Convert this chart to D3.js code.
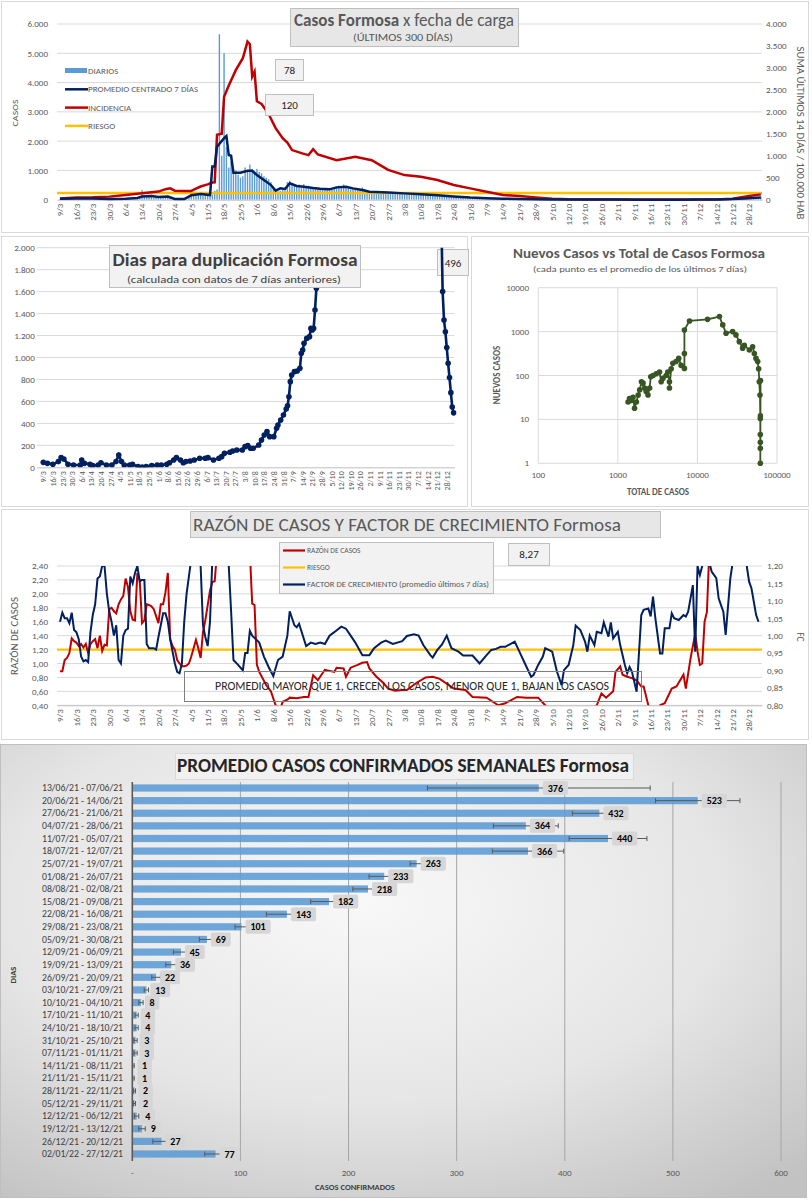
<!DOCTYPE html>
<html>
<head>
<meta charset="utf-8">
<script src="https://cdn.jsdelivr.net/npm/d3@7"></script>
<style>
  body { margin: 0; background: #fff; }
  text { font-family: Carlito, Calibri, Lato, sans-serif; }
</style>
</head>
<body>
<svg id="chart" width="812" height="1200"></svg>
<script>
// ---- datos (día 0 = 9/3/2021) ----
var inicio = new Date(2021, 2, 9);

var diarios = [
  30,45,38,25,40,52,35,
  28,33,47,40,36,30,44,
  50,42,38,55,47,30,36,
  25,30,18,22,35,28,20,
  15,30,25,40,22,35,60,
  330,120,95,140,110,80,100,
  75,90,60,110,140,85,70,
  20,10,15,8,12,30,60,
  160,210,180,250,190,140,230,
  160,220,180,300,350,5650,1500,
  5000,1800,1100,1300,900,1000,850,
  750,800,1100,950,1200,1050,900,
  1050,950,900,800,750,700,600,
  450,330,280,300,350,320,600,
  650,550,500,480,520,400,530,
  450,480,420,400,390,350,380,
  350,370,330,360,340,420,
  450,480,430,520,400,450,350,
  380,400,350,330,420,360,322,
  300,280,250,260,240,270,240,
  250,230,220,240,230,220,241,
  230,210,220,200,230,220,216,
  200,190,180,170,190,180,164,
  160,150,140,130,150,140,131,
  120,110,100,95,100,90,92,
  80,75,70,65,70,60,63,
  55,50,45,40,45,40,40,
  40,38,35,34,36,33,36,
  25,24,22,20,22,21,20,
  15,14,13,12,14,11,12,
  9,8,8,7,9,7,8,
  5,4,4,3,5,3,4,
  4,5,3,4,4,3,5,
  3,2,4,3,3,2,4,
  3,4,2,3,3,2,4,
  1,1,0,2,1,1,1,
  1,0,1,2,1,1,1,
  2,1,3,2,2,2,2,
  2,2,1,3,2,2,2,
  3,4,5,3,4,5,4,
  6,8,9,10,8,11,11,
  15,20,25,28,30,35,36,
  45,55,65,80,90,95,109
];

// [día, valor]
var promedio7 = [[0,35],[7,38],[14,42],[21,28],[28,30],[33,60],[35,110],[39,125],[42,95],[46,110],[49,25],[53,20],[56,150],[60,195],[64,160],[65,1130],[66,1130],[67,1810],[70,2100],[71,2175],[72,1525],[73,1500],[74,920],[77,920],[80,990],[82,990],[84,843],[87,672],[90,500],[92,310],[94,387],[96,365],[98,558],[101,467],[104,444],[108,400],[111,375],[115,353],[118,421],[122,444],[125,387],[129,330],[132,273],[140,250],[147,216],[154,190],[161,150],[168,110],[175,72],[182,48],[189,36],[196,24],[203,14],[210,8],[217,4],[224,4],[231,3],[238,3],[245,1],[252,1],[259,2],[266,2],[273,4],[280,8],[287,22],[292,45],[295,62],[299,78]];

var incidencia = [[0,30],[7,50],[14,55],[21,70],[28,105],[35,145],[42,185],[45,240],[47,260],[49,205],[53,200],[56,200],[58,250],[60,300],[63,350],[65,390],[66,395],[67,1480],[69,1500],[70,2345],[72,2600],[75,2950],[78,3220],[80,3600],[81,3540],[82,2800],[83,2915],[84,2240],[86,2180],[89,1950],[92,1630],[95,1400],[97,1300],[99,1130],[103,1060],[106,1015],[108,1150],[110,1030],[118,900],[126,980],[133,900],[140,680],[147,560],[154,524],[161,448],[168,334],[175,258],[182,182],[189,106],[196,83],[203,53],[210,23],[217,8],[224,4],[238,3],[259,3],[280,5],[287,23],[294,83],[299,121]];

var riesgoIncidencia = 150;

var duplicacion = [[0,45],[3,36],[7,27],[11,52],[13,88],[15,76],[18,27],[22,21],[27,21],[28,67],[30,36],[34,27],[36,15],[40,21],[42,42],[46,21],[50,21],[53,52],[55,112],[57,52],[59,21],[63,21],[65,27],[69,6],[72,3],[75,6],[79,15],[83,21],[86,21],[90,27],[92,42],[95,67],[97,88],[100,67],[102,42],[104,52],[107,58],[110,67],[114,82],[118,82],[120,88],[124,67],[128,82],[130,97],[132,127],[136,137],[138,149],[141,158],[145,158],[147,188],[149,197],[151,173],[153,173],[157,203],[159,249],[161,294],[163,325],[165,279],[168,279],[170,355],[171,385],[173,431],[175,476],[177,531],[178,560],[179,643],[180,780],[181,840],[183,871],[185,877],[187,901],[188,1038],[189,1068],[190,1129],[192,1174],[194,1190],[195,1265],[196,1250],[197,1265],[198,1432],[199,1630],[200,2300],[290,2300],[291,1600],[292,1341],[293,1235],[294,1090],[295,947],[296,817],[297,680],[298,549],[299,496]];

var totalCasos = [1343,1400,1470,1550,1620,1710,1800,1880,1980,2070,2170,2270,2390,2510,2590,2770,3040,3340,3500,3680,4040,4240,4450,4450,4680,4910,5390,5820,6240,6860,6860,6860,7950,13400,18900,20800,22900,27700,30500,33600,37000,38800,44900,49400,51900,54500,57200,58800,59900,61100,61700,61700,61700,61700,61800,61900,62100];
var nuevosCasos = [25,30,27,32,18,25,36,47,72,67,52,43,36,52,94,100,110,120,72,86,100,120,72,52,142,190,208,245,170,145,317,1090,1750,1900,2200,1420,920,1000,840,590,420,490,380,450,318,245,208,142,72,36,10.5,4.5,2.2,1,3,12,77];

var razon = [[0,0.89],[1,0.89],[2,1.05],[3,1.08],[4,1.15],[5,1.36],[6,1.32],[7,1.30],[8,1.25],[9,1.28],[10,1.23],[11,1.28],[12,1.15],[13,1.28],[14,1.32],[15,1.35],[16,1.22],[17,1.40],[18,1.18],[19,1.27],[20,1.26],[21,1.78],[22,1.80],[23,1.75],[24,1.72],[25,1.85],[26,1.92],[27,1.97],[28,2.22],[29,2.10],[30,1.75],[31,1.63],[32,1.62],[33,2.30],[34,2.20],[35,1.58],[36,1.62],[37,1.85],[38,1.84],[39,1.82],[40,1.78],[41,1.68],[42,1.58],[43,1.85],[44,1.85],[45,2.02],[46,2.30],[47,1.35],[48,1.25],[49,1.20],[50,1.05],[51,1.00],[52,0.96],[53,0.96],[54,0.97],[55,1.00],[56,1.10],[57,1.22],[58,1.34],[59,1.22],[60,1.08],[61,1.45],[62,1.62],[64,2.05],[65,2.17],[66,2.18],[67,2.60],[70,4.0],[75,5.0],[80,3.5],[81,2.60],[82,1.86],[83,1.84],[84,0.98],[85,0.88],[88,0.69],[90,0.60],[92,0.40],[94,0.35],[95,0.45],[97,0.48],[98,0.51],[101,0.50],[104,0.52],[106,0.52],[108,0.83],[110,0.76],[113,0.91],[117,0.88],[118,0.94],[121,0.93],[122,0.81],[124,0.94],[127,0.98],[129,1.01],[131,1.02],[132,0.93],[135,0.81],[138,0.72],[140,0.64],[143,0.61],[146,0.62],[148,0.62],[152,0.72],[156,0.80],[159,0.81],[162,0.78],[168,0.64],[173,0.62],[176,0.52],[182,0.51],[187,0.40],[190,0.43],[195,0.52],[199,0.51],[204,0.51],[207,0.40],[210,0.33],[215,0.30],[222,0.30],[228,0.38],[229,0.40],[231,0.57],[233,0.51],[236,0.60],[237,0.88],[239,0.96],[240,0.84],[242,0.81],[244,0.79],[246,0.76],[248,0.67],[249,0.67],[251,0.40],[253,0.33],[255,0.33],[256,0.40],[258,0.43],[261,0.64],[263,0.67],[266,0.84],[267,0.64],[269,1.07],[271,1.43],[272,1.17],[273,0.98],[274,1.00],[275,1.60],[276,1.74],[277,2.60],[285,4.0],[292,6.0],[299,8.27]];

var factor = [[0,1.04],[1,1.066],[2,1.05],[3,1.05],[4,1.036],[5,1.066],[6,1.016],[7,1.01],[8,0.99],[9,0.94],[10,0.926],[11,0.93],[12,0.924],[13,1.01],[14,1.06],[15,1.09],[16,1.164],[17,1.17],[18,1.20],[19,1.20],[20,1.12],[21,1.07],[22,1.04],[23,1.0],[24,1.03],[25,0.93],[26,0.92],[27,1.0],[28,1.016],[29,1.02],[30,1.17],[31,1.15],[32,1.18],[33,1.20],[34,1.156],[35,1.16],[36,1.16],[37,0.976],[38,0.964],[40,0.964],[41,0.96],[42,0.996],[44,1.064],[45,1.064],[46,1.04],[47,0.99],[49,0.92],[50,0.896],[51,0.892],[52,0.92],[53,1.04],[54,1.12],[55,1.17],[56,1.22],[58,1.26],[60,1.20],[61,1.03],[62,0.996],[63,0.97],[64,1.04],[65,1.22],[68,1.26],[72,1.20],[73,1.07],[74,0.93],[76,0.916],[78,0.90],[79,0.95],[80,0.95],[81,1.014],[82,1.0],[85,0.98],[87,0.94],[89,0.91],[91,0.884],[93,0.93],[95,0.94],[97,1.0],[98,1.07],[100,1.03],[101,1.024],[102,1.034],[105,0.97],[107,0.98],[109,0.976],[111,0.98],[113,0.976],[115,1.0],[117,1.01],[120,1.026],[122,1.02],[124,1.0],[126,0.98],[128,0.956],[129,0.944],[132,0.944],[134,0.964],[137,0.98],[139,0.986],[142,0.976],[146,0.984],[148,0.999],[151,1.004],[153,1.0],[155,0.973],[158,0.944],[159,0.937],[161,0.959],[163,0.975],[165,1.0],[167,0.964],[170,0.954],[172,0.943],[176,0.943],[179,0.92],[182,0.944],[184,0.959],[186,0.962],[188,0.968],[190,0.968],[194,0.983],[196,0.954],[198,0.925],[201,0.882],[202,0.887],[204,0.916],[206,0.94],[207,0.964],[210,0.954],[212,0.897],[214,0.858],[215,0.901],[217,0.916],[219,0.973],[220,1.029],[222,1.016],[224,0.983],[225,0.954],[226,1.0],[228,0.973],[229,1.011],[231,1.007],[232,1.038],[234,0.997],[235,1.038],[236,0.992],[238,1.011],[239,0.973],[241,0.916],[242,0.892],[243,0.91],[244,0.897],[246,0.839],[248,1.059],[249,1.074],[251,1.078],[252,1.055],[253,1.112],[254,1.05],[256,0.949],[257,0.949],[258,1.021],[260,1.021],[261,1.064],[262,1.05],[264,1.045],[266,1.059],[267,1.055],[268,1.069],[270,1.145],[271,0.954],[272,1.20],[273,1.174],[274,1.20],[276,1.24],[278,1.184],[280,1.165],[281,1.107],[283,1.069],[284,1.002],[286,1.165],[287,1.21],[290,1.25],[293,1.20],[294,1.155],[295,1.136],[297,1.059],[298,1.04]];

var riesgoRazon = 1.2;

var semanas = ["13/06/21 - 07/06/21","20/06/21 - 14/06/21","27/06/21 - 21/06/21","04/07/21 - 28/06/21","11/07/21 - 05/07/21","18/07/21 - 12/07/21","25/07/21 - 19/07/21","01/08/21 - 26/07/21","08/08/21 - 02/08/21","15/08/21 - 09/08/21","22/08/21 - 16/08/21","29/08/21 - 23/08/21","05/09/21 - 30/08/21","12/09/21 - 06/09/21","19/09/21 - 13/09/21","26/09/21 - 20/09/21","03/10/21 - 27/09/21","10/10/21 - 04/10/21","17/10/21 - 11/10/21","24/10/21 - 18/10/21","31/10/21 - 25/10/21","07/11/21 - 01/11/21","14/11/21 - 08/11/21","21/11/21 - 15/11/21","28/11/21 - 22/11/21","05/12/21 - 29/11/21","12/12/21 - 06/12/21","19/12/21 - 13/12/21","26/12/21 - 20/12/21","02/01/22 - 27/12/21"];
var promedioSemanal = [376,523,432,364,440,366,263,233,218,182,143,101,69,45,36,22,13,8,4,4,3,3,1,1,2,2,4,9,27,77];
var errorSemanal = [103,39,25,30,36,33,6,14,14,17,19,6,7,7,5,4,2,2,1.5,1.5,1.5,1.5,0.8,0.8,1,1,2,3,8,10];

// ---- utilidades ----
var FONT = "Carlito, Calibri, Lato, sans-serif";
var GRIS = "#595959";
var loc = d3.formatLocale({decimal: ",", thousands: ".", grouping: [3], currency: ["$", ""]});
var fmtMiles = loc.format(",.0f"), fmtDec = loc.format(".2f");
var fmtFecha = d3.timeFormat("%-d/%-m");
var dia = i => d3.timeDay.offset(inicio, i);
var ticksSemana = d3.range(0, 295, 7);

var svg = d3.select("#chart");
var defs = svg.append("defs");

function caja(x, y, w, h, fill, stroke, rx) {
  return svg.append("rect").attr("x", x).attr("y", y).attr("width", w).attr("height", h)
    .attr("fill", fill).attr("stroke", stroke || "none").attr("rx", rx || 0);
}
function texto(g, x, y, s, size, o) {
  o = o || {};
  var t = g.append("text").attr("x", x).attr("y", y).text(s)
    .attr("font-size", size).attr("fill", o.fill || GRIS)
    .attr("text-anchor", o.anchor || "middle")
    .attr("font-weight", o.bold ? "bold" : null);
  if (o.len) t.attr("textLength", o.len).attr("lengthAdjust", "spacingAndGlyphs");
  if (o.rot) t.attr("transform", `rotate(${o.rot},${x},${y})`);
  return t;
}
function clip(id, x, y, w, h) {
  defs.append("clipPath").attr("id", id).append("rect")
    .attr("x", x).attr("y", y).attr("width", w).attr("height", h);
}
function ejeFechas(g, x, y0, size) {
  var ax = g.append("g").attr("transform", `translate(0,${y0})`)
    .call(d3.axisBottom(x).tickValues(ticksSemana).tickFormat(i => fmtFecha(dia(i))).tickSize(0))
    .attr("font-family", FONT).attr("font-size", size);
  ax.select(".domain").attr("stroke", "#bfbfbf");
  ax.selectAll("text").attr("fill", GRIS).attr("x", -4).attr("y", 0).attr("dy", "0.32em")
    .attr("transform", "rotate(-90)").style("text-anchor", "end");
}
function ejeValores(g, axis, tx, pad, size) {
  var ax = g.append("g").attr("transform", `translate(${tx},0)`)
    .call(axis.tickSize(0).tickPadding(pad))
    .attr("font-family", FONT).attr("font-size", size);
  ax.select(".domain").remove();
  ax.selectAll("text").attr("fill", GRIS);
}
function rejilla(g, scale, vals, x0, x1) {
  g.append("g").selectAll("line").data(vals).join("line")
    .attr("x1", x0).attr("x2", x1).attr("y1", d => scale(d)).attr("y2", d => scale(d))
    .attr("stroke", "#d9d9d9").attr("stroke-width", 1);
}

// =========== 1. Casos Formosa x fecha de carga ===========
caja(1.5, 1.5, 807, 231, "#fff", "#d9d9d9");
var g1 = svg.append("g");
var x1 = d3.scaleLinear().domain([-1.28, 299.5]).range([57, 762]);
var y1 = d3.scaleLinear().domain([0, 6000]).range([199.7, 24]);
var y1r = d3.scaleLinear().domain([0, 4000]).range([199.7, 24]);

rejilla(g1, y1, d3.range(1000, 6001, 1000), 57, 762);
ejeValores(g1, d3.axisLeft(y1).tickValues(d3.range(0, 6001, 1000)).tickFormat(fmtMiles), 57, 9, 9);
ejeValores(g1, d3.axisRight(y1r).tickValues(d3.range(0, 4001, 500)).tickFormat(fmtMiles), 762, 4, 9);

g1.append("g").selectAll("rect").data(diarios).join("rect")
  .attr("x", (d, i) => x1(i) - 0.7).attr("width", 1.4)
  .attr("y", d => y1(d)).attr("height", d => y1(0) - y1(d))
  .attr("fill", "#5b9bd5");

ejeFechas(g1, x1, 199.7, 9);

g1.append("line").attr("x1", 57).attr("x2", 762)
  .attr("y1", y1r(riesgoIncidencia)).attr("y2", y1r(riesgoIncidencia))
  .attr("stroke", "#ffc000").attr("stroke-width", 2.5);
g1.append("path").datum(incidencia)
  .attr("d", d3.line().x(d => x1(d[0])).y(d => y1r(d[1])))
  .attr("fill", "none").attr("stroke", "#c00000").attr("stroke-width", 2.5);
g1.append("path").datum(promedio7)
  .attr("d", d3.line().x(d => x1(d[0])).y(d => y1(d[1])))
  .attr("fill", "none").attr("stroke", "#002060").attr("stroke-width", 2.5);

texto(g1, 18, 113, "CASOS", 9, {rot: -90, len: 27});
texto(g1, 797, 133, "SUMA  ÚLTIMOS 14 DÍAS / 100.000 HAB", 9.5, {rot: 90, len: 173});

// leyenda
var ley1 = [
  {t: "DIARIOS", c: "#5b9bd5", bar: true},
  {t: "PROMEDIO CENTRADO 7 DÍAS", c: "#002060"},
  {t: "INCIDENCIA", c: "#c00000"},
  {t: "RIESGO", c: "#ffc000"}
];
ley1.forEach(function(d, i) {
  var yy = 71 + i * 18.3;
  if (d.bar) {
    g1.append("rect").attr("x", 65).attr("y", yy - 3).attr("width", 22).attr("height", 5).attr("fill", d.c);
  } else {
    g1.append("line").attr("x1", 65).attr("x2", 88).attr("y1", yy).attr("y2", yy)
      .attr("stroke", d.c).attr("stroke-width", 2.5);
  }
  texto(g1, 88, yy + 3, d.t, 9, {anchor: "start"});
});

// título y etiquetas
caja(290.5, 8.5, 228, 38, "#e7e7e7", "#bfbfbf");
var t1 = svg.append("text").attr("x", 404).attr("y", 26).attr("text-anchor", "middle")
  .attr("font-size", 18).attr("fill", GRIS).attr("textLength", 220).attr("lengthAdjust", "spacingAndGlyphs");
t1.append("tspan").attr("font-weight", "bold").text("Casos  Formosa ");
t1.append("tspan").text(" x fecha de carga");
texto(svg, 403, 41, "(ÚLTIMOS 300 DÍAS)", 10, {len: 100});

caja(275.5, 59.5, 28, 21, "#f2f2f2", "#bfbfbf");
texto(svg, 289.5, 74, "78", 11, {fill: "#262626"});
caja(265.5, 94.5, 48, 21, "#f2f2f2", "#bfbfbf");
texto(svg, 289.5, 109, "120", 11, {fill: "#262626"});

// =========== 2. Días para duplicación ===========
caja(1.5, 236.5, 466, 270, "#fff", "#d9d9d9");
var g2 = svg.append("g");
var x2 = d3.scaleLinear().domain([-4.8, 299.5]).range([36.7, 454.3]);
var y2 = d3.scaleLinear().domain([0, 2000]).range([467.3, 247.7]);
clip("clip2", 36.7, 247.7, 420, 219.6);

rejilla(g2, y2, d3.range(200, 2001, 200), 36.7, 454.3);
ejeValores(g2, d3.axisLeft(y2).tickValues(d3.range(0, 2001, 200)).tickFormat(fmtMiles), 36.7, 2, 9);
ejeFechas(g2, x2, 467.3, 8);

caja(437.5, 249.5, 31, 26, "#f2f2f2", "#bfbfbf");
texto(svg, 453, 266.5, "496", 11, {fill: "#262626"});

var g2c = svg.append("g").attr("clip-path", "url(#clip2)");
g2c.append("path").datum(duplicacion)
  .attr("d", d3.line().x(d => x2(d[0])).y(d => y2(d[1])))
  .attr("fill", "none").attr("stroke", "#002060").attr("stroke-width", 2.6);
g2c.selectAll("circle").data(duplicacion).join("circle")
  .attr("cx", d => x2(d[0])).attr("cy", d => y2(d[1])).attr("r", 2.8).attr("fill", "#002060");

caja(109.5, 245.5, 251, 42, "#f2f2f2", "#bfbfbf");
texto(svg, 235, 266, "Dias para duplicación Formosa", 18, {bold: true, len: 245, fill: "#404040"});
texto(svg, 234, 283, "(calculada con datos de 7 días anteriores)", 11, {len: 214, fill: "#404040"});

// =========== 3. Nuevos casos vs total ===========
caja(471.5, 236.5, 337, 270, "#fff", "#d9d9d9");
var g3 = svg.append("g");
var x3 = d3.scaleLog().domain([100, 100000]).range([538.3, 777]);
var y3 = d3.scaleLog().domain([1, 10000]).range([463.3, 287.7]);
var decX = [100, 1000, 10000, 100000], decY = [1, 10, 100, 1000, 10000];

g3.append("g").selectAll("line").data(decX).join("line")
  .attr("x1", d => x3(d)).attr("x2", d => x3(d)).attr("y1", 287.7).attr("y2", 463.3)
  .attr("stroke", "#d9d9d9");
rejilla(g3, y3, decY, 538.3, 777);
g3.append("g").selectAll("text").data(decY).join("text")
  .attr("x", 529).attr("y", d => y3(d) + 3).attr("text-anchor", "end")
  .attr("font-size", 9).attr("fill", GRIS).text(d => d);
g3.append("g").selectAll("text").data(decX).join("text")
  .attr("x", d => x3(d)).attr("y", 478).attr("text-anchor", "middle")
  .attr("font-size", 9).attr("fill", GRIS).text(d => d);

var puntos = totalCasos.map((t, i) => [t, nuevosCasos[i]]);
g3.append("path").datum(puntos)
  .attr("d", d3.line().x(d => x3(d[0])).y(d => y3(d[1])))
  .attr("fill", "none").attr("stroke", "#375623").attr("stroke-width", 1.8);
g3.append("g").selectAll("circle").data(puntos).join("circle")
  .attr("cx", d => x3(d[0])).attr("cy", d => y3(d[1])).attr("r", 2.8).attr("fill", "#375623");

texto(g3, 639, 258, "Nuevos Casos vs Total de Casos Formosa", 14, {bold: true, len: 252});
texto(g3, 640, 272, "(cada punto es el promedio de los últimos 7 días)", 9, {len: 214});
texto(g3, 658, 495, "TOTAL DE CASOS", 9, {bold: true});
texto(g3, 500, 375, "NUEVOS CASOS", 9, {bold: true, rot: -90});

// =========== 4. Razón de casos y factor de crecimiento ===========
caja(1.5, 509.5, 807, 230, "#fff", "#d9d9d9");
var g4 = svg.append("g");
var y4 = d3.scaleLinear().domain([0.4, 2.4]).range([705.3, 566]);
var y4r = d3.scaleLinear().domain([0.8, 1.2]).range([705.3, 566]);
clip("clip4", 57, 566, 705, 139.3);

rejilla(g4, y4, d3.range(0.4, 2.41, 0.2), 57, 762);
ejeValores(g4, d3.axisLeft(y4).tickValues(d3.range(0.4, 2.41, 0.2)).tickFormat(fmtDec), 57, 9, 9);
ejeValores(g4, d3.axisRight(y4r).tickValues(d3.range(0.8, 1.201, 0.05)).tickFormat(fmtDec), 762, 5, 9);
ejeFechas(g4, x1, 705.3, 9);

var g4c = g4.append("g").attr("clip-path", "url(#clip4)");
g4c.append("line").attr("x1", 57).attr("x2", 762)
  .attr("y1", y4(riesgoRazon)).attr("y2", y4(riesgoRazon))
  .attr("stroke", "#ffc000").attr("stroke-width", 2.2);
g4c.append("path").datum(razon)
  .attr("d", d3.line().x(d => x1(d[0])).y(d => y4(d[1])))
  .attr("fill", "none").attr("stroke", "#c00000").attr("stroke-width", 2);
g4c.append("path").datum(factor)
  .attr("d", d3.line().x(d => x1(d[0])).y(d => y4r(d[1])))
  .attr("fill", "none").attr("stroke", "#002060").attr("stroke-width", 2);

texto(g4, 18, 636, "RAZÓN  DE CASOS", 9.5, {rot: -90, len: 78});
texto(g4, 797, 637, "FC", 9.5, {rot: 90});

caja(190.5, 511.5, 470, 26, "#e7e7e7", "#bfbfbf");
texto(svg, 407, 531, "RAZÓN DE CASOS Y FACTOR DE CRECIMIENTO Formosa", 18, {len: 428});

caja(279.5, 542.5, 214, 51, "#f2f2f2", "#bfbfbf");
var ley4 = [
  {t: "RAZÓN DE CASOS", c: "#c00000"},
  {t: "RIESGO", c: "#ffc000"},
  {t: "FACTOR DE CRECIMIENTO (promedio últimos 7 días)", c: "#002060"}
];
ley4.forEach(function(d, i) {
  var yy = 550.5 + i * 17;
  svg.append("line").attr("x1", 283).attr("x2", 305).attr("y1", yy).attr("y2", yy)
    .attr("stroke", d.c).attr("stroke-width", 2.2);
  texto(svg, 307, yy + 2.7, d.t, 7.5, {anchor: "start", len: i == 2 ? 182 : null});
});

caja(508.5, 543.5, 41, 22, "#f2f2f2", "#bfbfbf");
texto(svg, 529, 558, "8,27", 11, {fill: "#262626"});

caja(184.5, 671.5, 457, 30, "none", "#7f7f7f");
texto(svg, 412, 690, "PROMEDIO MAYOR QUE 1, CRECEN LOS CASOS, MENOR QUE 1, BAJAN LOS CASOS", 11.5, {len: 394, fill: "#262626"});

// =========== 5. Promedio casos confirmados semanales ===========
var grad = defs.append("radialGradient").attr("id", "fondo")
  .attr("cx", "45%").attr("cy", "35%").attr("r", "80%");
grad.append("stop").attr("offset", "0%").attr("stop-color", "#f8f8f8");
grad.append("stop").attr("offset", "55%").attr("stop-color", "#e6e6e6");
grad.append("stop").attr("offset", "100%").attr("stop-color", "#c2c2c2");
caja(0.5, 744.5, 806, 453, "url(#fondo)", "#bfbfbf");

var g5 = svg.append("g");
var x5 = d3.scaleLinear().domain([0, 600]).range([132.3, 781]);
var y5 = d3.scaleBand().domain(semanas).range([781.7, 1160.3]);

g5.append("g").selectAll("line").data(d3.range(100, 601, 100)).join("line")
  .attr("x1", d => x5(d)).attr("x2", d => x5(d)).attr("y1", 782).attr("y2", 1161)
  .attr("stroke", "#a6a6a6").attr("stroke-width", 1);
g5.append("g").selectAll("text").data(d3.range(0, 601, 100)).join("text")
  .attr("x", d => x5(d)).attr("y", 1176).attr("text-anchor", "middle")
  .attr("font-size", 9).attr("fill", GRIS).text(d => d == 0 ? "-" : d);

var filas = semanas.map((s, i) => ({s: s, v: promedioSemanal[i], e: errorSemanal[i]}));
var yc = d => y5(d.s) + y5.bandwidth() / 2;

g5.append("g").selectAll("rect").data(filas).join("rect")
  .attr("x", x5(0)).attr("y", d => yc(d) - 3.6).attr("height", 7.2)
  .attr("width", d => x5(d.v) - x5(0)).attr("fill", "#5b9bd5").attr("fill-opacity", 0.88);

var err = g5.append("g").attr("stroke", "#595959").attr("stroke-width", 1);
err.selectAll(".eh").data(filas).join("line")
  .attr("x1", d => x5(d.v - d.e)).attr("x2", d => x5(d.v + d.e))
  .attr("y1", yc).attr("y2", yc);
err.selectAll(".ec1").data(filas).join("line")
  .attr("x1", d => x5(d.v - d.e)).attr("x2", d => x5(d.v - d.e))
  .attr("y1", d => yc(d) - 2.5).attr("y2", d => yc(d) + 2.5);
err.selectAll(".ec2").data(filas).join("line")
  .attr("x1", d => x5(d.v + d.e)).attr("x2", d => x5(d.v + d.e))
  .attr("y1", d => yc(d) - 2.5).attr("y2", d => yc(d) + 2.5);

g5.append("line").attr("x1", 132.3).attr("x2", 132.3).attr("y1", 782).attr("y2", 1161)
  .attr("stroke", "#595959").attr("stroke-width", 1.6);

g5.append("g").selectAll("text").data(filas).join("text")
  .attr("x", 123).attr("y", d => yc(d) + 3.2).attr("text-anchor", "end")
  .attr("font-size", 9.5).attr("fill", "#404040")
  .attr("textLength", 81).attr("lengthAdjust", "spacingAndGlyphs").text(d => d.s);

var etq = g5.append("g").selectAll("g").data(filas).join("g")
  .attr("transform", d => `translate(${x5(d.v) + 4},${yc(d)})`);
etq.append("rect").attr("x", 0).attr("y", -7).attr("height", 14).attr("rx", 2)
  .attr("width", d => String(d.v).length * 5.4 + 9).attr("fill", "#d6d6d6");
etq.append("text").attr("x", d => (String(d.v).length * 5.4 + 9) / 2).attr("y", 3.6)
  .attr("text-anchor", "middle").attr("font-size", 10).attr("font-weight", "bold")
  .attr("fill", "#000").text(d => d.v);

caja(175.5, 753.5, 458, 26, "#f2f2f2", "#d9d9d9").attr("fill-opacity", 0.85);
texto(svg, 403, 772, "PROMEDIO CASOS CONFIRMADOS SEMANALES Formosa", 20, {bold: true, len: 452, fill: "#262626"});
texto(svg, 355, 1190, "CASOS CONFIRMADOS", 8.5, {bold: true, fill: "#404040"});
texto(svg, 16, 975, "DIAS", 8.5, {bold: true, rot: -90, fill: "#404040"});
</script>
</body>
</html>
